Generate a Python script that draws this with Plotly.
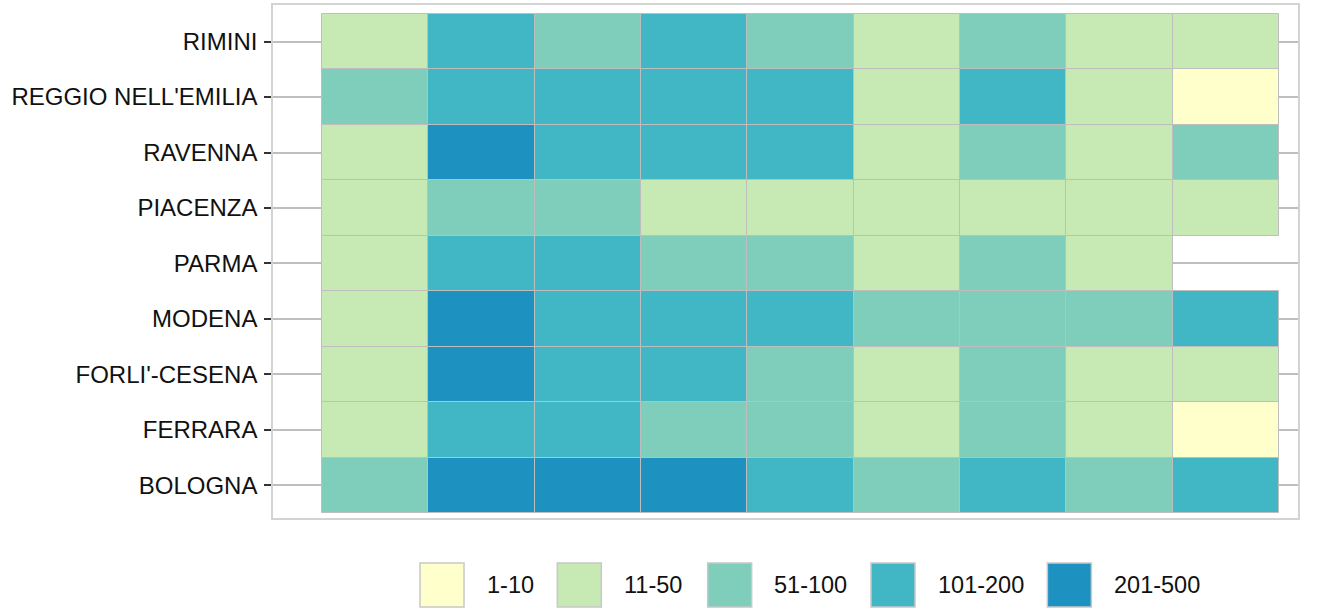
import plotly.graph_objects as go

# ---- data ----
categories = ["1-10", "11-50", "51-100", "101-200", "201-500"]
colors = ["#FFFFCC", "#C7E9B4", "#7FCDBB", "#41B6C4", "#1D91C0"]
provinces = ["BOLOGNA", "FERRARA", "FORLI'-CESENA", "MODENA", "PARMA",
             "PIACENZA", "RAVENNA", "REGGIO NELL'EMILIA", "RIMINI"]
columns = [1, 2, 3, 4, 5, 6, 7, 8, 9]

bologna = ["51-100", "201-500", "201-500", "201-500", "101-200", "51-100", "101-200", "51-100", "101-200"]
ferrara = ["11-50", "101-200", "101-200", "51-100", "51-100", "11-50", "51-100", "11-50", "1-10"]
forli_cesena = ["11-50", "201-500", "101-200", "101-200", "51-100", "11-50", "51-100", "11-50", "11-50"]
modena = ["11-50", "201-500", "101-200", "101-200", "101-200", "51-100", "51-100", "51-100", "101-200"]
parma = ["11-50", "101-200", "101-200", "51-100", "51-100", "11-50", "51-100", "11-50", None]
piacenza = ["11-50", "51-100", "51-100", "11-50", "11-50", "11-50", "11-50", "11-50", "11-50"]
ravenna = ["11-50", "201-500", "101-200", "101-200", "101-200", "11-50", "51-100", "11-50", "51-100"]
reggio_emilia = ["51-100", "101-200", "101-200", "101-200", "101-200", "11-50", "101-200", "11-50", "1-10"]
rimini = ["11-50", "101-200", "51-100", "101-200", "51-100", "11-50", "51-100", "11-50", "11-50"]

rows = [bologna, ferrara, forli_cesena, modena, parma, piacenza, ravenna, reggio_emilia, rimini]

FONT = "Liberation Sans, Arial, sans-serif"
FS = 24
LFS = 23.5
TXT = "#111111"

fig = go.Figure()

# ---- tiles: one horizontal bar trace per class ----
for cat, col in zip(categories, colors):
    ys, xs, bases = [], [], []
    for prov, vals in zip(provinces, rows):
        for c, v in zip(columns, vals):
            if v == cat:
                ys.append(prov)
                xs.append(1)
                bases.append(c - 0.5)
    fig.add_trace(go.Bar(
        y=ys, x=xs, base=bases, orientation="h", width=1,
        marker=dict(color=col, line=dict(color="#BEBEBE", width=1)),
        showlegend=False, hoverinfo="skip", xaxis="x", yaxis="y"))

# ---- custom legend (large keys) ----
def text_width(s, fs):
    w = 0.0
    for ch in s:
        w += 0.333 if ch == "-" else 0.556
    return w * fs

key = 44
x = 420
key_x, lab_x = [], []
for cat in categories:
    key_x.append(x + key / 2)
    lab_x.append(x + key + 20.5)
    x = x + key + 23 + text_width(cat, 23.4) + 23.5

fig.add_trace(go.Scatter(
    x=key_x, y=[0] * len(categories), mode="markers",
    marker=dict(symbol="square", size=key, color=colors,
                line=dict(color="#C8C8C8", width=1.5)),
    showlegend=False, hoverinfo="skip", xaxis="x2", yaxis="y2"))

annotations = []
for lx, cat in zip(lab_x, categories):
    annotations.append(dict(x=lx, y=0, xref="x2", yref="y2", text=cat,
                            showarrow=False, xanchor="left", yanchor="middle",
                            font=dict(family=FONT, size=LFS, color=TXT)))

H = 610
L, R, T = 273, 1298, 5
panel_bottom = 518
plot_h = H - T
y_dom0 = (H - panel_bottom) / plot_h

fig.update_layout(
    width=1330, height=H,
    margin=dict(l=L, r=1330 - R, t=T, b=0),
    paper_bgcolor="white", plot_bgcolor="white",
    barmode="overlay", bargap=0,
    font=dict(family=FONT, size=FS, color=TXT),
    annotations=annotations,
    xaxis=dict(range=[0.04, 9.68], showgrid=False, zeroline=False,
               showticklabels=False, ticks="", showline=True, mirror=True,
               linecolor="#D3D3D3", linewidth=1.5, domain=[0, 1], anchor="y"),
    yaxis=dict(type="category", categoryorder="array", categoryarray=provinces,
               range=[-0.59, 8.66], domain=[y_dom0, 1], anchor="x",
               showgrid=True, gridcolor="#BEBEBE", gridwidth=2,
               ticks="outside", ticklen=7, tickwidth=2, tickcolor="#333333",
               ticklabelstandoff=2,
               showline=True, mirror=True, linecolor="#D3D3D3", linewidth=1.5,
               tickfont=dict(family=FONT, size=FS, color=TXT),
               zeroline=False),
    xaxis2=dict(range=[L, R], domain=[0, 1], anchor="y2", visible=False),
    yaxis2=dict(range=[-1, 1], domain=[0, 50 / plot_h], anchor="x2", visible=False),
)

fig.write_html("out.html",
               config={"displayModeBar": False},
               post_script="document.body.style.margin='0';document.body.style.padding='0';")
